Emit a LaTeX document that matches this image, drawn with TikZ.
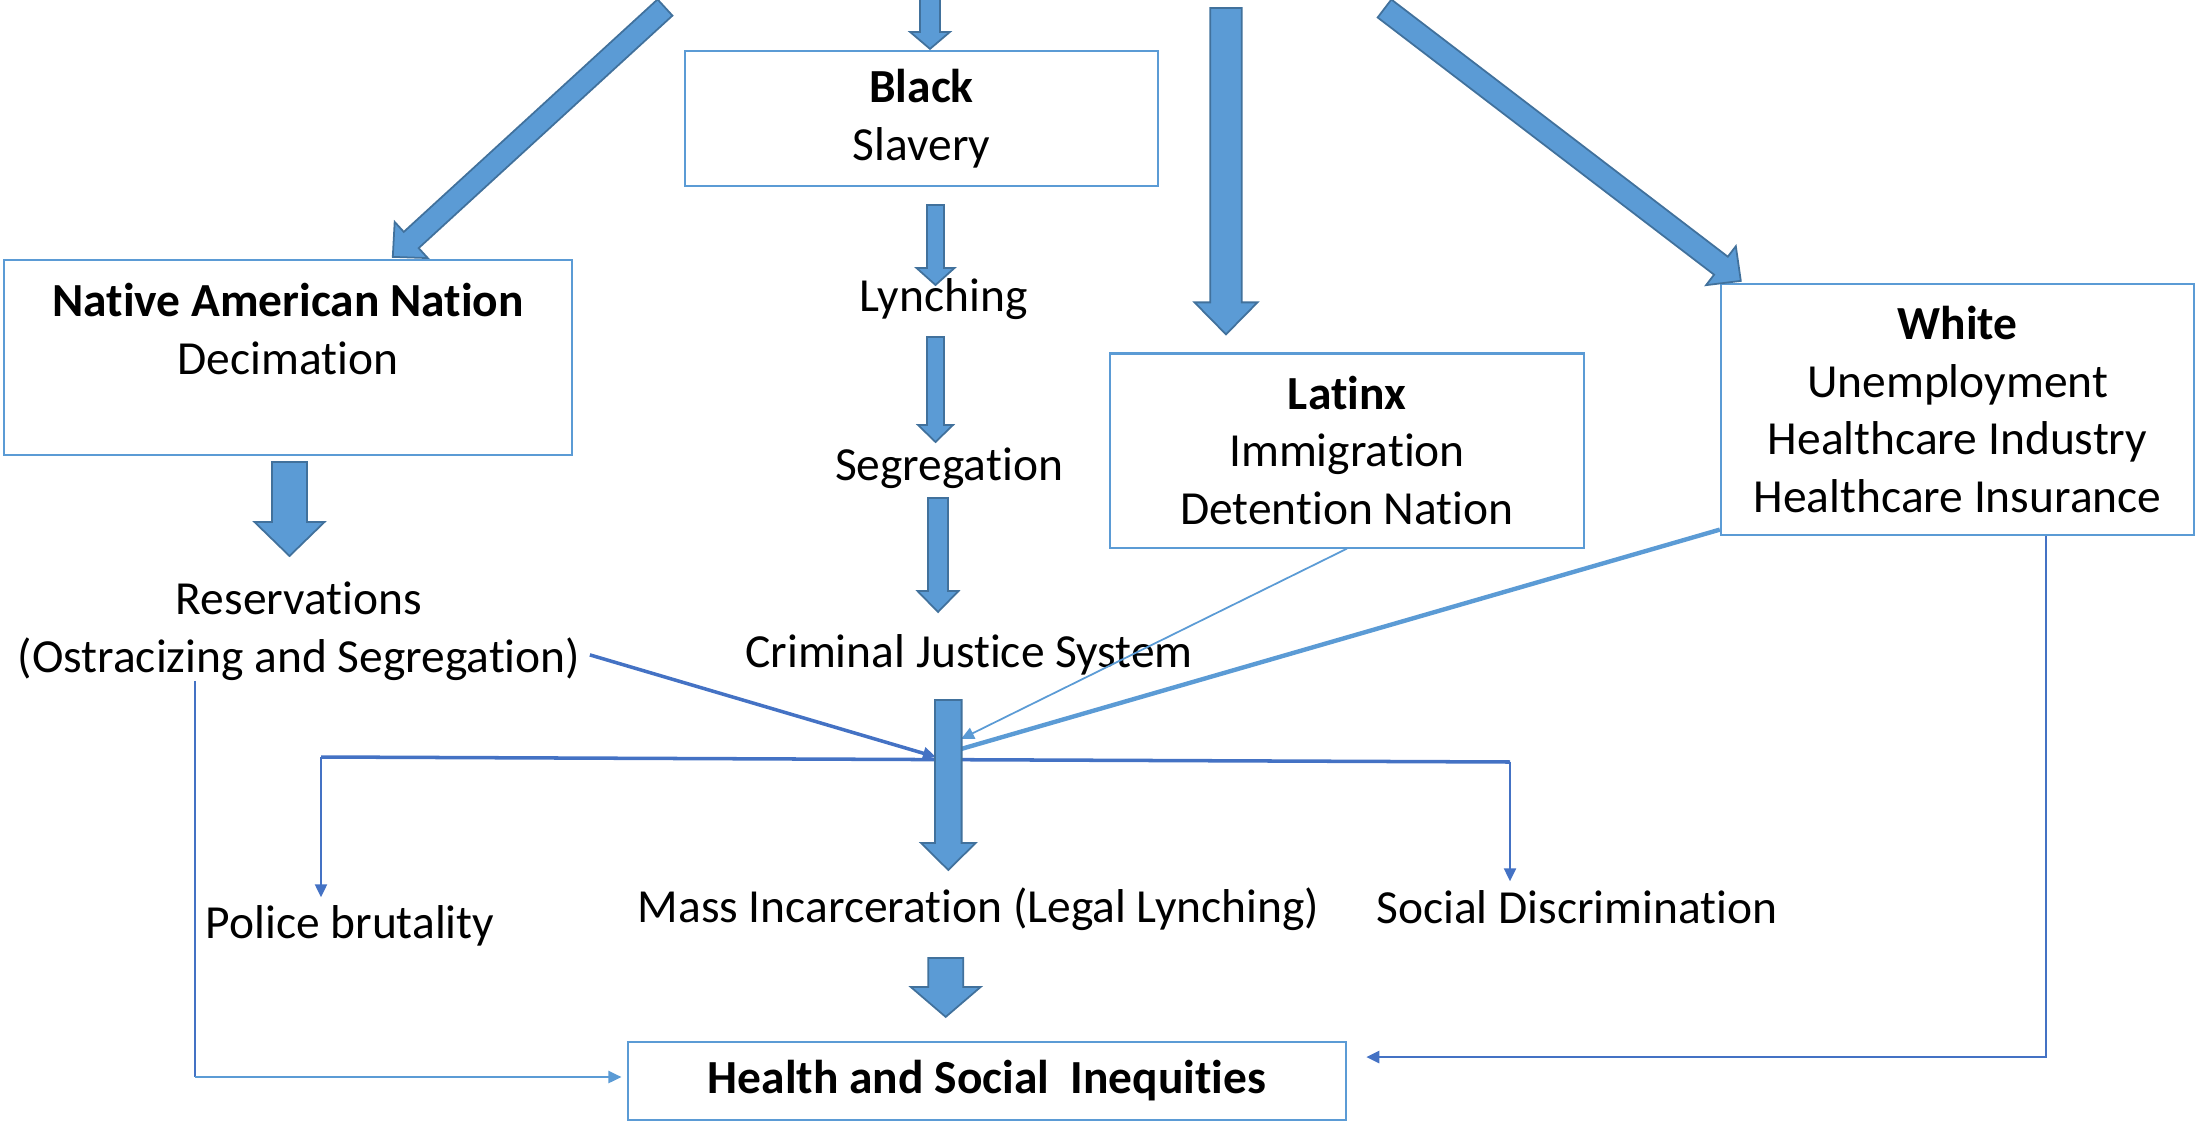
\documentclass[tikz,border=0pt]{standalone}
\usepackage{fontspec}
\setmainfont{Carlito}[Ligatures=NoCommon]
\usetikzlibrary{calc,arrows.meta}
\definecolor{boxblue}{HTML}{5B9BD5}
\definecolor{arrowedge}{HTML}{41719C}
\definecolor{linkblue}{HTML}{4472C4}
% block arrow: tail, tip, shaft half width, head half width, head length
\newcommand{\blockarrow}[5]{%
\coordinate (ba-t) at (#1); \coordinate (ba-p) at (#2);
\coordinate (ba-h) at ($(ba-p)!#5!(ba-t)$);
\filldraw[blockarr] ($(ba-t)!#3!90:(ba-p)$) -- ($(ba-h)!#3!90:(ba-p)$) -- ($(ba-h)!#4!90:(ba-p)$) -- (ba-p)
  -- ($(ba-h)!#4!-90:(ba-p)$) -- ($(ba-h)!#3!-90:(ba-p)$) -- ($(ba-t)!#3!-90:(ba-p)$) -- cycle;}

\begin{document}
\begin{tikzpicture}[x=0.01cm,y=-0.01cm,>={Triangle[width=0.12cm,length=0.13cm]},
  every node/.style={font=\fontsize{13.5}{16.4}\selectfont,inner sep=0pt},
  catbox/.style={draw=boxblue,line width=0.6pt,align=center,minimum width=4.73cm},
  plain/.style={anchor=base},
  blockarr/.style={fill=boxblue,draw=arrowedge,line width=0.5pt},
  darkline/.style={draw=linkblue,line width=0.65pt},
  lightline/.style={draw=boxblue,line width=0.7pt}]
\useasboundingbox (0,0) rectangle (2197,1124);
\node[catbox,minimum height=1.35cm] (black) at (921.5,118.5) {\textbf{Black}\\Slavery};
\node[catbox,minimum width=5.68cm,minimum height=1.95cm] (native) at (288,357.5) {\textbf{Native American Nation}\\Decimation\\\mbox{}};
\node[catbox,minimum height=1.94cm] (latinx) at (1347,450.5) {\textbf{Latinx}\\Immigration\\Detention Nation};
\node[catbox,minimum height=2.51cm] (white) at (1957.5,409.5) {\textbf{White}\\Unemployment\\Healthcare Industry\\Healthcare Insurance};
\node[catbox,minimum width=7.18cm,minimum height=0.78cm] (health) at (987,1081) {\textbf{Health and Social\ \ Inequities}};
\node[plain] (lynch) at (943.5,311) {Lynching};
\node[plain] (segr) at (949,480) {Segregation};
\node[plain] (cjs) at (969,667) {Criminal Justice System};
\node[anchor=north,align=center] (reserv) at (299,581) {Reservations\\(Ostracizing and Segregation)};
\node[plain] (mass) at (978.5,922) {Mass Incarceration (Legal Lynching)};
\node[plain] (police) at (350,938) {Police brutality};
\node[plain] (socdisc) at (1577,923) {Social Discrimination};
\coordinate (hub) at (948,757); \coordinate (brL) at (321,757); \coordinate (brR) at (1510,762);
\coordinate (lcorner) at (195,1077); \coordinate (rcorner) at (2046,1057);
\coordinate (srcB) at (930,-5); \coordinate (srcN) at (665,7.5);
\coordinate (srcL) at (1226,8); \coordinate (srcW) at (1384.5,8.5);
\draw[linkblue,line width=1pt,->] ([xshift=0.09cm,yshift=0.26cm]reserv.south east) -- ($(hub)+(-12,0)$);
\draw[boxblue,line width=0.5pt,->] (latinx.south) -- ($(hub)+(13,-18)$);
\draw[boxblue,line width=1.25pt] ([yshift=0.065cm]white.south west) -- ($(hub)+(13,-8)$);
\draw[linkblue,line width=1pt] (brL) -- (brR);
\draw[linkblue,line width=0.6pt,->,shorten >=0.07cm] (brL) -- (brL |- police.north);
\draw[linkblue,line width=0.6pt,->,shorten >=0.08cm] (brR) -- (brR |- socdisc.north);
\draw[darkline] (lcorner |- reserv.south) -- (lcorner);
\draw[lightline,->,shorten >=1.5pt] (lcorner) -- (lcorner -| health.west);
\draw[darkline,line width=0.75pt,->,shorten >=0.19cm] (rcorner |- white.south) -- (rcorner) -- (rcorner -| health.east);
\blockarrow{srcB}{$(black.north)+(8.5,-1)$}{0.10cm}{0.20cm}{0.17cm}
\blockarrow{srcN}{$(native.north west)+(390,-2)$}{0.11cm}{0.245cm}{0.25cm}
\blockarrow{srcL}{$(latinx.north)+(-121,-18)$}{0.157cm}{0.315cm}{0.32cm}
\blockarrow{srcW}{$(white.north west)+(21,-2)$}{0.113cm}{0.245cm}{0.25cm}
\blockarrow{$(black.south)+(14,18)$}{$(lynch.base)+(-8,-26)$}{0.085cm}{0.19cm}{0.17cm}
\blockarrow{$(lynch.base)+(-8,26)$}{$(segr.base)+(-13.5,-38)$}{0.085cm}{0.175cm}{0.17cm}
\blockarrow{$(segr.base)+(-11,18)$}{$(cjs.base)+(-31,-55)$}{0.10cm}{0.205cm}{0.21cm}
\blockarrow{$(cjs.base)+(-20.7,33)$}{$(mass.base)+(-30.2,-52)$}{0.133cm}{0.273cm}{0.27cm}
\blockarrow{$(mass.base)+(-32.8,36)$}{$(health.north)+(-41.3,-24)$}{0.175cm}{0.35cm}{0.30cm}
\blockarrow{$(native.south)+(1.5,6)$}{$(reserv.north)+(-9.5,-25)$}{0.175cm}{0.35cm}{0.34cm}
\end{tikzpicture}
\end{document}
